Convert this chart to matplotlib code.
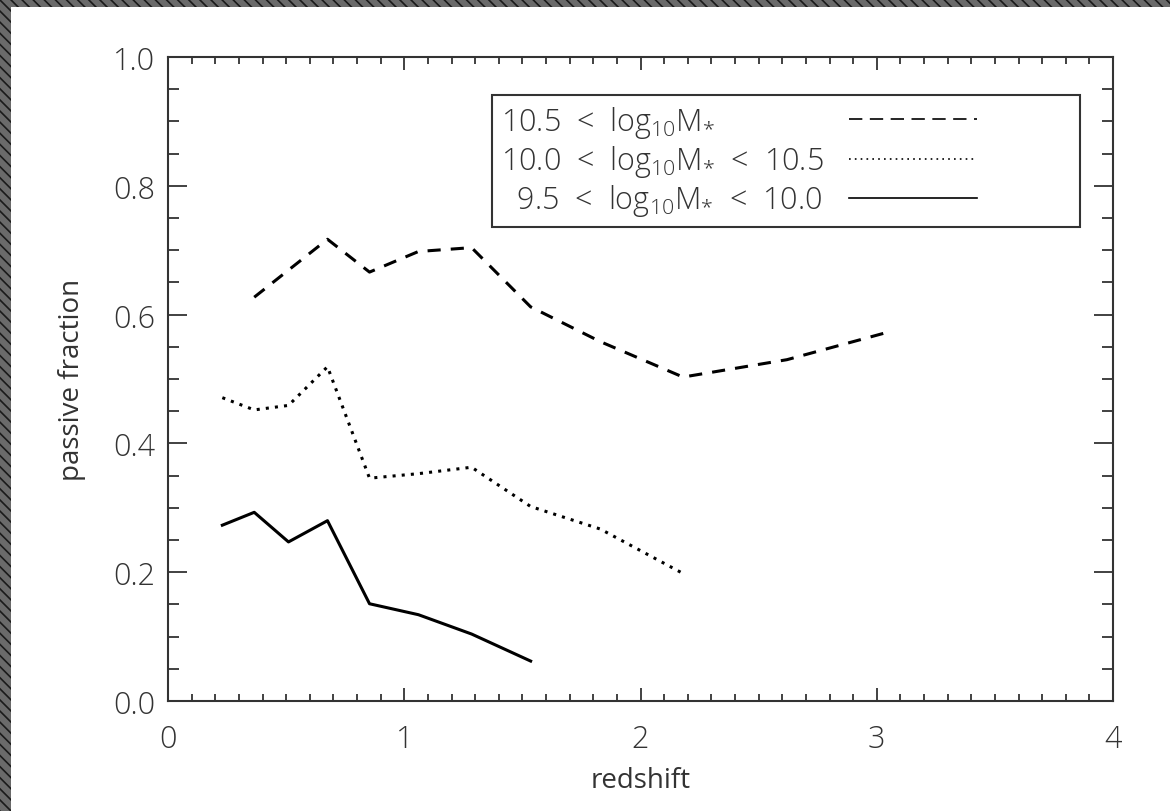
import matplotlib
matplotlib.use("Agg")
import matplotlib.pyplot as plt
from matplotlib.lines import Line2D
from matplotlib.patches import Rectangle
from matplotlib.ticker import MultipleLocator, FormatStrFormatter

# redshift bins and passive fractions
z_high = [0.365, 0.675, 0.853, 1.06, 1.285, 1.535, 1.83, 2.18, 2.62, 3.04]
f_high = [0.627, 0.717, 0.666, 0.698, 0.704, 0.612, 0.558, 0.503, 0.530, 0.572]

z_mid = [0.23, 0.365, 0.51, 0.675, 0.853, 1.06, 1.285, 1.535, 1.83, 2.18]
f_mid = [0.471, 0.452, 0.459, 0.519, 0.346, 0.353, 0.363, 0.302, 0.267, 0.198]

z_low = [0.23, 0.365, 0.51, 0.675, 0.853, 1.06, 1.285, 1.535]
f_low = [0.273, 0.293, 0.247, 0.280, 0.151, 0.134, 0.104, 0.062]

labels = [r"10.5  <  log$_{10}$M$_{*}$",
          r"10.0  <  log$_{10}$M$_{*}$  <  10.5",
          r"  9.5  <  log$_{10}$M$_{*}$  <  10.0"]

ink = "#333333"
fnt = "Open Sans"
plt.rcParams["font.family"] = [fnt, "DejaVu Sans"]
plt.rcParams["font.weight"] = 300
plt.rcParams["mathtext.fontset"] = "custom"
plt.rcParams["mathtext.rm"] = fnt + ":light"
plt.rcParams["mathtext.it"] = fnt + ":light"
plt.rcParams["mathtext.default"] = "regular"
plt.rcParams["hatch.linewidth"] = 1.2

fig = plt.figure(figsize=(11.7, 8.12), dpi=100)

# hatched border on the left and top
fig.patches.append(Rectangle((0, 0), 11 / 1170, 1, transform=fig.transFigure,
                             facecolor="#6a6a6a", edgecolor="#1a1a1a",
                             hatch="\\\\\\", linewidth=0, zorder=-1))
fig.patches.append(Rectangle((0, 1 - 8 / 812), 1, 8 / 812, transform=fig.transFigure,
                             facecolor="#6a6a6a", edgecolor="#1a1a1a",
                             hatch="\\\\\\", linewidth=0, zorder=-1))

ax = fig.add_axes([168 / 1170, 110 / 812, 945 / 1170, 644 / 812])

ax.plot(z_high, f_high, color="black", lw=2.2, linestyle=(0, (4.3, 3.3)))
ax.plot(z_mid, f_mid, color="black", lw=2.2, linestyle=(0, (1, 2)))
ax.plot(z_low, f_low, color="black", lw=2.2, linestyle="-")

ax.set_xlim(0, 4)
ax.set_ylim(0, 1)
ax.xaxis.set_major_locator(MultipleLocator(1))
ax.xaxis.set_minor_locator(MultipleLocator(0.1))
ax.yaxis.set_major_locator(MultipleLocator(0.2))
ax.yaxis.set_minor_locator(MultipleLocator(0.05))
ax.yaxis.set_major_formatter(FormatStrFormatter("%.1f"))

for s in ax.spines.values():
    s.set_color(ink)
    s.set_linewidth(1.5)

ax.tick_params(axis="both", which="both", direction="in", top=True, right=True,
               color=ink, width=1.3, labelcolor=ink, labelsize=22)
ax.tick_params(axis="x", which="major", length=9.5, pad=16)
ax.tick_params(axis="x", which="minor", length=5)
ax.tick_params(axis="y", which="major", length=13.5, pad=9)
ax.tick_params(axis="y", which="minor", length=8)

ax.set_xlabel("redshift", fontsize=20, color=ink, labelpad=8)
ax.set_ylabel("passive fraction", fontsize=20, color=ink, labelpad=20)

leg_fs = 22
leg_hl = 4.2
leg_pad = 0.8
handles = [Line2D([], [], color="black", lw=1.2, linestyle=(0, (8, 4.5))),
           Line2D([], [], color="black", lw=1.2, linestyle=(0, (1, 2.5))),
           Line2D([], [], color="black", lw=1.2, linestyle="-")]
leg = ax.legend(handles, labels, loc="upper left",
                bbox_to_anchor=(0.343, 0.941, 0.622, 0.0), mode="expand",
                borderaxespad=0, markerfirst=False, fontsize=leg_fs,
                handlelength=leg_hl, handletextpad=leg_pad, labelspacing=0.1,
                borderpad=0.3, fancybox=False, framealpha=1, labelcolor=ink)
leg.get_frame().set_edgecolor(ink)
leg.get_frame().set_linewidth(1.5)

# left-align the labels while keeping the line samples in one column
renderer = fig.canvas.get_renderer()
text_w = max(t.get_window_extent(renderer).width for t in leg.get_texts())
row_w = text_w + (leg_hl + leg_pad) * leg_fs * fig.dpi / 72
for col in leg._legend_handle_box.get_children():
    col.align = "left"
    for item in col.get_children():
        item.mode = "expand"
        item.width = row_w

fig.savefig("out.png", dpi=100)
